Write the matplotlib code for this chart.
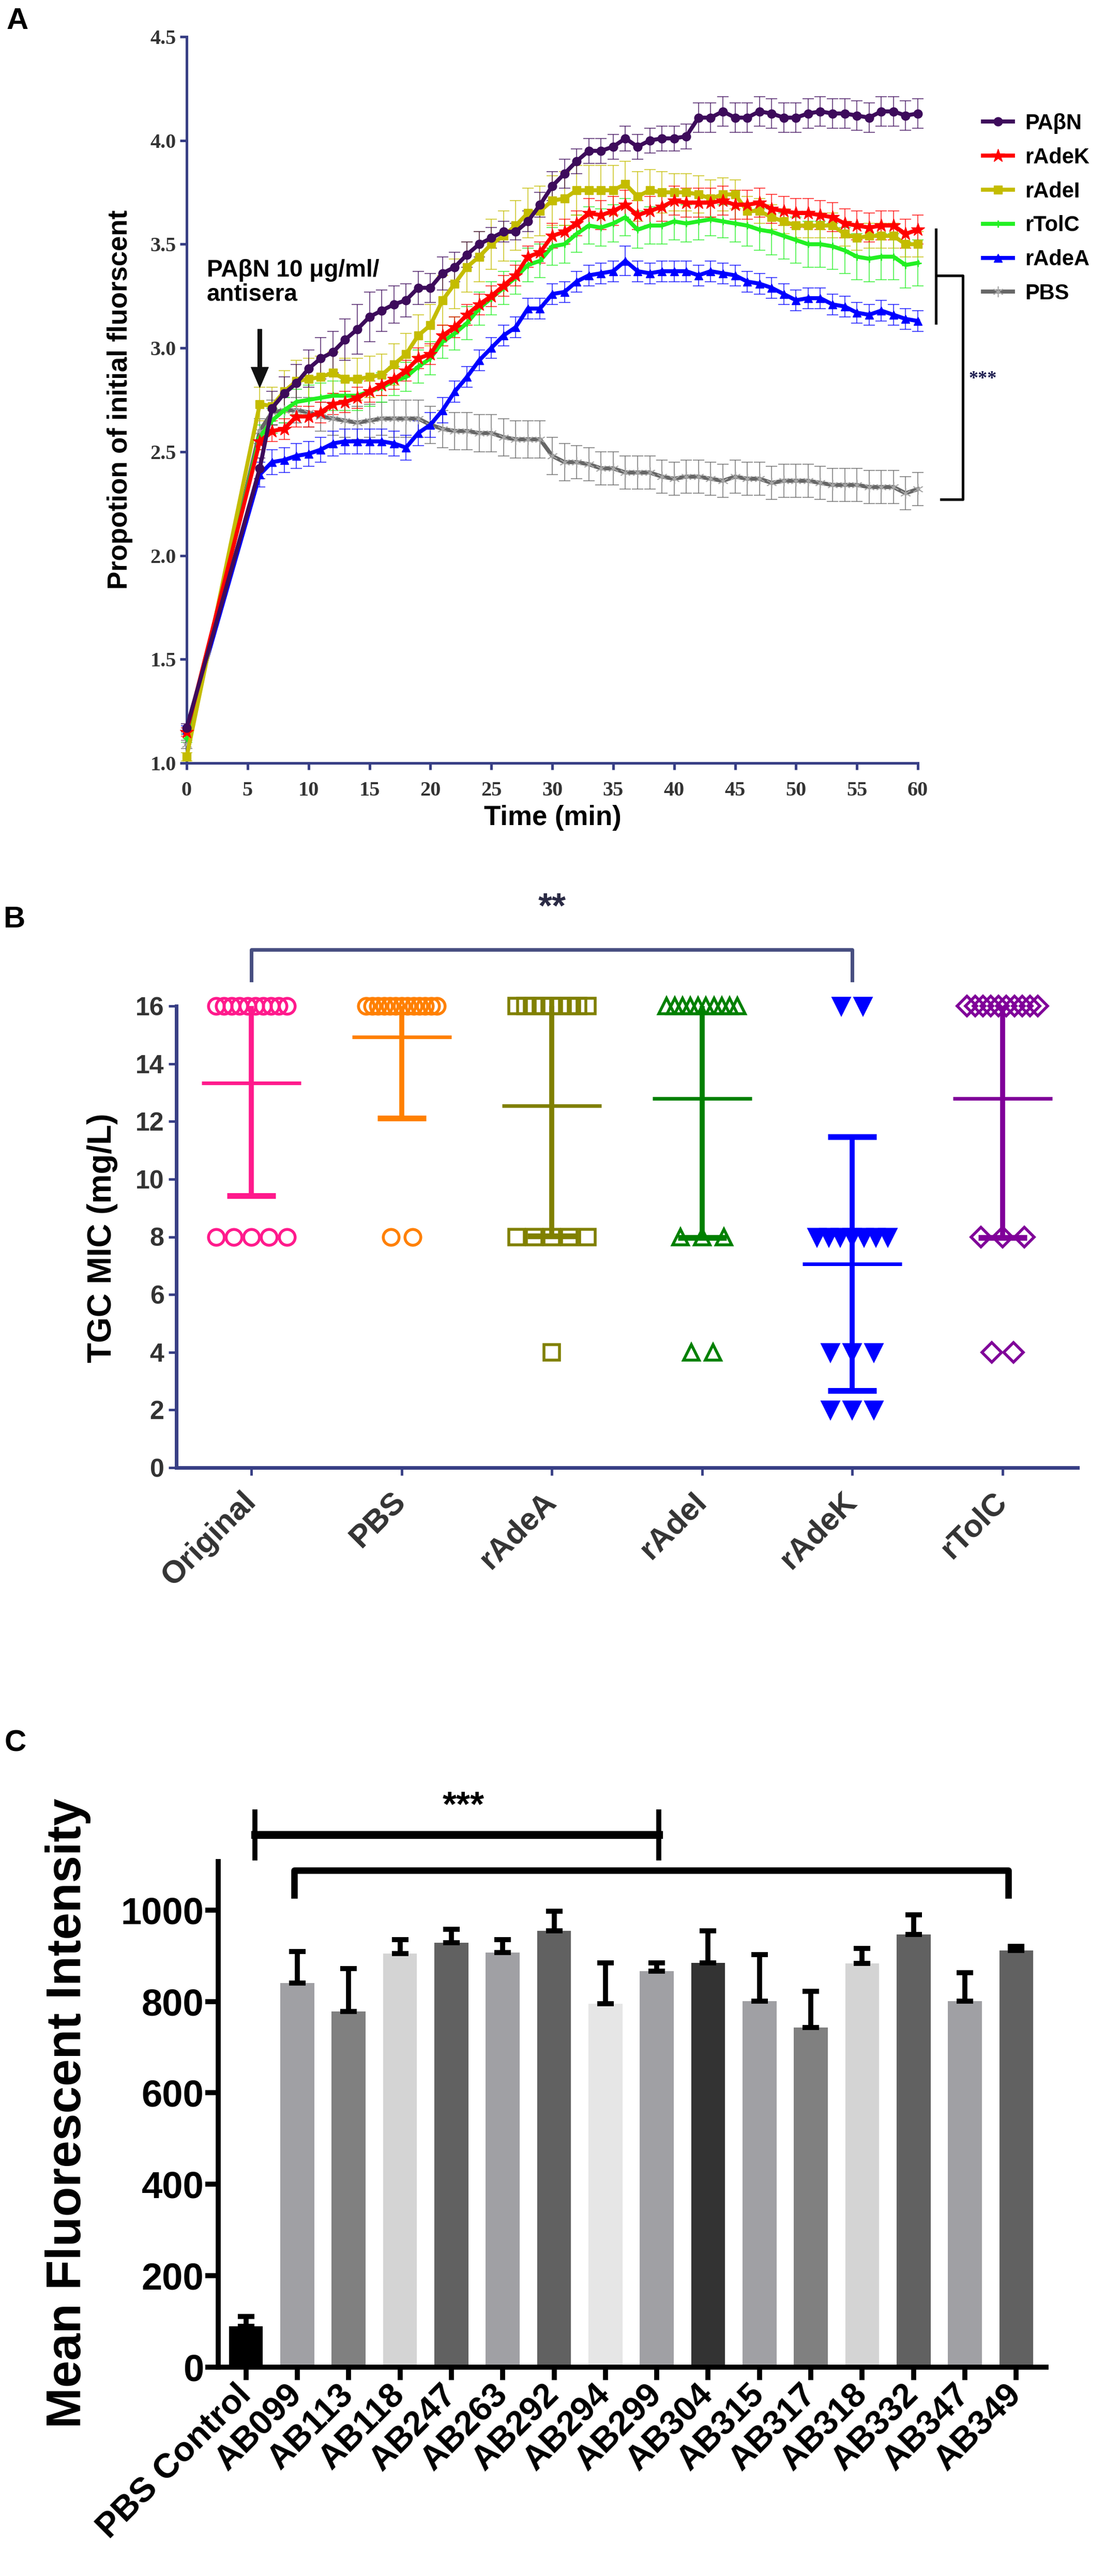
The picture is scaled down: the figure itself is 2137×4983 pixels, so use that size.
import numpy as np
import matplotlib.pyplot as plt

plt.rcParams['font.family'] = ['Liberation Sans', 'DejaVu Sans']
plt.rcParams['font.weight'] = 'bold'

# ---------------- Panel A: dye accumulation over time ----------------
# time points: 0 min, then every minute from 6 to 60
time_min = [0] + list(range(6, 61))

pabn = [1.17, 2.42, 2.71, 2.78, 2.83, 2.90, 2.95, 2.98, 3.04, 3.09,
        3.15, 3.18, 3.21, 3.23, 3.29, 3.29, 3.36, 3.39, 3.45, 3.50,
        3.53, 3.56, 3.56, 3.61, 3.69, 3.78, 3.84, 3.90, 3.95, 3.95,
        3.97, 4.01, 3.97, 4.00, 4.01, 4.01, 4.02, 4.11, 4.11, 4.14,
        4.11, 4.11, 4.14, 4.13, 4.11, 4.11, 4.13, 4.14, 4.13, 4.13,
        4.12, 4.11, 4.14, 4.14, 4.12, 4.13]
radek = [1.15, 2.55, 2.60, 2.61, 2.67, 2.67, 2.69, 2.73, 2.74, 2.76,
         2.79, 2.82, 2.85, 2.89, 2.95, 2.97, 3.06, 3.10, 3.16, 3.21,
         3.25, 3.30, 3.35, 3.44, 3.46, 3.54, 3.56, 3.60, 3.65, 3.64,
         3.66, 3.69, 3.64, 3.66, 3.68, 3.71, 3.70, 3.70, 3.70, 3.71,
         3.69, 3.69, 3.70, 3.67, 3.66, 3.65, 3.65, 3.64, 3.63, 3.60,
         3.59, 3.58, 3.59, 3.59, 3.55, 3.57]
radei = [1.03, 2.73, 2.72, 2.79, 2.84, 2.85, 2.86, 2.88, 2.85, 2.85,
         2.86, 2.87, 2.92, 2.97, 3.06, 3.11, 3.23, 3.31, 3.39, 3.44,
         3.50, 3.54, 3.59, 3.65, 3.66, 3.71, 3.72, 3.76, 3.76, 3.76,
         3.76, 3.79, 3.73, 3.76, 3.75, 3.75, 3.75, 3.74, 3.72, 3.74,
         3.74, 3.66, 3.66, 3.63, 3.61, 3.59, 3.59, 3.59, 3.59, 3.55,
         3.53, 3.54, 3.54, 3.54, 3.50, 3.50]
rtolc = [1.12, 2.57, 2.65, 2.70, 2.74, 2.75, 2.76, 2.77, 2.77, 2.77,
         2.79, 2.81, 2.84, 2.86, 2.91, 2.95, 3.03, 3.07, 3.12, 3.19,
         3.24, 3.29, 3.34, 3.40, 3.42, 3.49, 3.50, 3.55, 3.59, 3.58,
         3.60, 3.63, 3.57, 3.59, 3.59, 3.61, 3.60, 3.61, 3.62, 3.61,
         3.60, 3.59, 3.57, 3.56, 3.54, 3.52, 3.50, 3.50, 3.49, 3.47,
         3.44, 3.43, 3.44, 3.44, 3.40, 3.41]
radea = [1.16, 2.39, 2.45, 2.46, 2.48, 2.49, 2.51, 2.54, 2.55, 2.55,
         2.55, 2.55, 2.54, 2.52, 2.59, 2.63, 2.70, 2.79, 2.86, 2.94,
         3.00, 3.06, 3.10, 3.19, 3.19, 3.26, 3.27, 3.32, 3.35, 3.36,
         3.37, 3.42, 3.37, 3.36, 3.37, 3.37, 3.37, 3.35, 3.37, 3.36,
         3.35, 3.32, 3.31, 3.29, 3.26, 3.23, 3.24, 3.24, 3.21, 3.20,
         3.17, 3.16, 3.18, 3.16, 3.14, 3.13]
pbs = [1.09, 2.60, 2.69, 2.70, 2.70, 2.69, 2.67, 2.66, 2.65, 2.64,
       2.65, 2.66, 2.66, 2.66, 2.66, 2.63, 2.61, 2.60, 2.60, 2.59,
       2.59, 2.57, 2.56, 2.56, 2.56, 2.48, 2.45, 2.45, 2.44, 2.42,
       2.42, 2.40, 2.40, 2.40, 2.38, 2.37, 2.38, 2.38, 2.37, 2.36,
       2.38, 2.37, 2.37, 2.35, 2.36, 2.36, 2.36, 2.35, 2.34, 2.34,
       2.34, 2.33, 2.33, 2.33, 2.30, 2.32]

pabn_err = [0.02, 0.05, 0.08, 0.08, 0.09, 0.09, 0.10, 0.10, 0.10, 0.12,
            0.12, 0.10, 0.09, 0.08, 0.08, 0.07, 0.08, 0.07, 0.06, 0.06,
            0.05, 0.05, 0.04, 0.05, 0.06, 0.07, 0.07, 0.06, 0.06, 0.06,
            0.06, 0.06, 0.06, 0.06, 0.06, 0.06, 0.06, 0.07, 0.07, 0.07,
            0.07, 0.07, 0.07, 0.07, 0.07, 0.07, 0.07, 0.07, 0.07, 0.07,
            0.07, 0.07, 0.07, 0.07, 0.07, 0.07]
radek_err = [0.02, 0.04, 0.05, 0.05, 0.05, 0.05, 0.05, 0.05, 0.05, 0.05,
             0.05, 0.05, 0.05, 0.05, 0.05, 0.05, 0.05, 0.05, 0.05, 0.05,
             0.05, 0.05, 0.05, 0.05, 0.05, 0.06, 0.06, 0.06, 0.07, 0.07,
             0.07, 0.07, 0.07, 0.07, 0.07, 0.07, 0.07, 0.07, 0.07, 0.07,
             0.07, 0.07, 0.07, 0.07, 0.07, 0.07, 0.07, 0.07, 0.07, 0.07,
             0.07, 0.07, 0.07, 0.07, 0.07, 0.07]
radei_err = [0.02, 0.08, 0.09, 0.10, 0.10, 0.10, 0.10, 0.10, 0.10, 0.10,
             0.10, 0.10, 0.10, 0.10, 0.10, 0.10, 0.12, 0.12, 0.12, 0.12,
             0.12, 0.12, 0.12, 0.12, 0.12, 0.12, 0.13, 0.12, 0.12, 0.12,
             0.12, 0.11, 0.12, 0.10, 0.10, 0.09, 0.09, 0.09, 0.09, 0.08,
             0.07, 0.07, 0.06, 0.06, 0.06, 0.06, 0.06, 0.06, 0.06, 0.06,
             0.06, 0.06, 0.06, 0.06, 0.06, 0.06]
rtolc_err = [0.02, 0.06, 0.06, 0.06, 0.06, 0.07, 0.07, 0.07, 0.07, 0.07,
             0.07, 0.07, 0.07, 0.07, 0.08, 0.08, 0.08, 0.08, 0.08, 0.08,
             0.08, 0.08, 0.08, 0.08, 0.08, 0.09, 0.09, 0.09, 0.09, 0.09,
             0.09, 0.09, 0.09, 0.09, 0.09, 0.09, 0.09, 0.09, 0.08, 0.08,
             0.09, 0.10, 0.10, 0.11, 0.11, 0.11, 0.11, 0.11, 0.11, 0.11,
             0.11, 0.11, 0.11, 0.11, 0.11, 0.11]
radea_err = [0.02, 0.06, 0.06, 0.06, 0.06, 0.06, 0.06, 0.06, 0.06, 0.06,
             0.06, 0.06, 0.06, 0.06, 0.06, 0.06, 0.06, 0.05, 0.05, 0.05,
             0.05, 0.05, 0.05, 0.05, 0.05, 0.05, 0.05, 0.05, 0.05, 0.05,
             0.05, 0.07, 0.05, 0.05, 0.05, 0.05, 0.05, 0.05, 0.05, 0.05,
             0.05, 0.05, 0.05, 0.05, 0.05, 0.05, 0.05, 0.05, 0.05, 0.05,
             0.05, 0.05, 0.05, 0.05, 0.05, 0.05]
pbs_err = [0.02, 0.06, 0.06, 0.06, 0.06, 0.07, 0.07, 0.08, 0.08, 0.08,
           0.08, 0.08, 0.09, 0.09, 0.09, 0.09, 0.09, 0.09, 0.09, 0.09,
           0.09, 0.09, 0.09, 0.09, 0.09, 0.09, 0.09, 0.08, 0.08, 0.08,
           0.08, 0.08, 0.08, 0.08, 0.08, 0.08, 0.08, 0.08, 0.08, 0.08,
           0.08, 0.08, 0.08, 0.08, 0.08, 0.08, 0.08, 0.08, 0.08, 0.08,
           0.08, 0.08, 0.08, 0.08, 0.08, 0.08]

# ---------------- Panel B: TGC MIC per group ----------------
mic_groups = ['Original', 'PBS', 'rAdeA', 'rAdeI', 'rAdeK', 'rTolC']
mic_original = [16, 16, 16, 16, 16, 16, 16, 16, 16, 16, 8, 8, 8, 8, 8]
mic_pbs = [16, 16, 16, 16, 16, 16, 16, 16, 16, 16, 16, 16, 16, 8, 8]
mic_radea = [16, 16, 16, 16, 16, 16, 16, 16, 16, 8, 8, 8, 8, 8, 4]
mic_radei = [16, 16, 16, 16, 16, 16, 16, 16, 16, 16, 8, 8, 8, 4, 4]
mic_radek = [16, 16, 8, 8, 8, 8, 8, 8, 8, 4, 4, 4, 2, 2, 2]
mic_rtolc = [16, 16, 16, 16, 16, 16, 16, 16, 16, 16, 8, 8, 8, 4, 4]

# ---------------- Panel C: mean fluorescent intensity ----------------
mfi_labels = ['PBS Control', 'AB099', 'AB113', 'AB118', 'AB247', 'AB263',
              'AB292', 'AB294', 'AB299', 'AB304', 'AB315', 'AB317',
              'AB318', 'AB332', 'AB347', 'AB349']
mfi_mean = [89, 840, 778, 905, 928, 907, 954, 795, 866, 884, 801, 743,
            883, 947, 801, 911]
mfi_err = [22, 69, 94, 30, 30, 28, 43, 89, 18, 71, 101, 79, 33, 43, 62, 10]


W, H = 2137, 4983
fig = plt.figure(figsize=(W / 100, H / 100), dpi=100)


def fx(px):
    return px / W


def fy(py):
    return 1 - py / H


NAVY = '#383f85'

# ======================= Panel A =======================
axA = fig.add_axes([fx(361), fy(1476), (1775 - 361) / W, (1476 - 71) / H])

seriesA = [
    # label, values, errors, colour, marker, size, edge width, marker edge colour
    ('PBS', pbs, pbs_err, '#666666', (6, 2, 0), 15, 1.2, '#a8a8a8'),
    ('rAdeA', radea, radea_err, '#0000ff', '^', 12, 1, '#0000ff'),
    ('rTolC', rtolc, rtolc_err, '#22f022', '+', 10, 2, '#22f022'),
    ('rAdeI', radei, radei_err, '#c4bc00', 's', 11.5, 1, '#c4bc00'),
    ('rAdeK', radek, radek_err, '#ff0000', '*', 19, 1, '#ff0000'),
    ('PA\u03b2N', pabn, pabn_err, '#3d0b5b', 'o', 12, 1, '#3d0b5b'),
]

handles = {}
for label, vals, err, col, mk, ms, mew, mec in seriesA:
    axA.errorbar(time_min, vals, yerr=err, fmt='none', ecolor=col,
                 elinewidth=1.4, capsize=8, capthick=1.4, alpha=0.7,
                 clip_on=False, zorder=2)
    line, = axA.plot(time_min, vals, color=col, lw=5.6, marker=mk, ms=ms,
                     mfc=col, mec=mec, mew=mew, clip_on=False, zorder=3)
    handles[label] = line

axA.set_xlim(0, 60)
axA.set_ylim(1.0, 4.5)
axA.set_xticks(range(0, 61, 5))
yticksA = [1.0, 1.5, 2.0, 2.5, 3.0, 3.5, 4.0, 4.5]
axA.set_yticks(yticksA)
axA.set_yticklabels(['%.1f' % v for v in yticksA])
for s in ['top', 'right']:
    axA.spines[s].set_visible(False)
for s in ['left', 'bottom']:
    axA.spines[s].set_color(NAVY)
    axA.spines[s].set_linewidth(3.6)
axA.tick_params(direction='out', length=9.5, width=3.6, color=NAVY,
                labelsize=29, labelcolor='#333333')
axA.tick_params(axis='x', pad=16)
axA.tick_params(axis='y', pad=5)
for t in axA.get_xticklabels() + axA.get_yticklabels():
    t.set_fontfamily('Liberation Serif')
    t.set_fontweight('bold')

fig.text(fx(232), fy(773), 'Propotion of initial fluorscent', rotation=90,
         ha='center', va='center', fontsize=38, fontweight='bold')
fig.text(fx(1069), fy(1582), 'Time (min)', ha='center', va='center',
         fontsize=38, fontweight='bold')

axA.text(1.65, 3.43, 'PA\u03b2N 10 \u03bcg/ml/\nantisera', ha='left', va='top',
         fontsize=33, fontweight='bold', linespacing=1.1)
axA.annotate('', xy=(6, 2.81), xytext=(6, 3.09),
             arrowprops=dict(facecolor='#111111', edgecolor='#111111',
                             width=5.5, headwidth=24, headlength=28, shrink=0))

# significance bracket right of the curves
axA.plot([61.5, 61.5], [3.57, 3.12], color='black', lw=3.6, clip_on=False)
axA.plot([61.5, 63.7, 63.7, 61.9], [3.35, 3.35, 2.27, 2.27], color='black',
         lw=3.6, clip_on=False)
axA.text(64.2, 2.85, '***', ha='left', va='center', fontsize=26,
         color='#1c1c50', fontfamily='Liberation Serif')

legend_order = ['PA\u03b2N', 'rAdeK', 'rAdeI', 'rTolC', 'rAdeA', 'PBS']
fig.legend([handles[k] for k in legend_order], legend_order, loc='upper left',
           bbox_to_anchor=(fx(1880), fy(198)), frameon=False, borderpad=0,
           handlelength=1.4, handletextpad=0.55, labelspacing=0.62,
           numpoints=1, prop=dict(size=30, weight='bold'))

# ======================= Panel B =======================
axB = fig.add_axes([fx(341), fy(2839), (2084 - 341) / W, (2839 - 1946) / H])

groupsB = [
    (mic_original, '#ff1a8c', 'o', 'none'),
    (mic_pbs, '#ff8000', 'o', 'none'),
    (mic_radea, '#808000', 's', 'none'),
    (mic_radei, '#008000', '^', 'none'),
    (mic_radek, '#0000ff', 'v', '#0000ff'),
    (mic_rtolc, '#800099', 'D', 'none'),
]


def spread(vals, centre):
    vals = np.asarray(vals)
    xs = np.zeros(len(vals), dtype=float)
    for v in np.unique(vals):
        idx = np.where(vals == v)[0]
        k = len(idx)
        step = min(0.145, 0.47 / (k - 1)) if k > 1 else 0.0
        xs[idx] = centre + (np.arange(k) - (k - 1) / 2) * step
    return xs


for i, (vals, col, mk, face) in enumerate(groupsB):
    xs = spread(vals, i)
    ms = 19 if mk == 'D' else 22
    axB.plot(xs, vals, linestyle='none', marker=mk, ms=ms, mfc=face, mec=col,
             mew=4, clip_on=False, zorder=3)
    m = np.mean(vals)
    sd = np.std(vals, ddof=1)
    axB.errorbar(i, m, yerr=sd, fmt='none', ecolor=col, elinewidth=7,
                 capsize=34, capthick=8, zorder=4)
    axB.hlines(m, i - 0.33, i + 0.33, color=col, lw=5, zorder=4)

axB.set_xlim(-0.5, 5.5)
axB.set_ylim(0, 16)
axB.set_yticks(range(0, 17, 2))
axB.set_xticks(range(len(mic_groups)))
axB.set_xticklabels(mic_groups, rotation=45, ha='right', va='center',
                    rotation_mode='anchor')
for s in ['top', 'right']:
    axB.spines[s].set_visible(False)
for s in ['left', 'bottom']:
    axB.spines[s].set_color(NAVY)
    axB.spines[s].set_linewidth(5)
axB.tick_params(direction='out', length=11, width=3.5, color=NAVY,
                labelcolor='#333333')
axB.tick_params(axis='y', labelsize=36, pad=6)
axB.tick_params(axis='x', labelsize=44, pad=30)

axB.plot([0, 0, 4, 4], [16.9, 17.96, 17.96, 16.9], color='#474e80', lw=5,
         clip_on=False)
axB.text(2, 19.4, '**', ha='center', va='center', fontsize=50,
         color='#2b2b45')
fig.text(fx(198), fy(2395), 'TGC MIC (mg/L)', rotation=90, ha='center',
         va='center', fontsize=46, fontweight='bold')

# ======================= Panel C =======================
axC = fig.add_axes([fx(422), fy(4579), (2023 - 422) / W, (4579 - 3601) / H])

bar_colors = ['#000000', '#a0a0a4', '#808080', '#d4d4d4', '#616161',
              '#a0a0a4', '#616161', '#e6e6e6', '#a0a0a4', '#333333',
              '#a0a0a4', '#808080', '#d4d4d4', '#616161', '#a0a0a4',
              '#616161']
xC = np.arange(len(mfi_labels))
axC.bar(xC, mfi_mean, width=0.66, color=bar_colors,
        yerr=[np.zeros(len(mfi_err)), mfi_err],
        error_kw=dict(ecolor='black', elinewidth=7, capsize=11.5, capthick=7),
        zorder=2)
axC.set_xlim(-0.54, 15.58)
axC.set_ylim(0, 1106)
axC.set_yticks(range(0, 1001, 200))
axC.set_xticks(xC)
axC.set_xticklabels(mfi_labels, rotation=45, ha='right', va='center',
                    rotation_mode='anchor')
for s in ['top', 'right']:
    axC.spines[s].set_visible(False)
for s in ['left', 'bottom']:
    axC.spines[s].set_linewidth(7)
axC.tick_params(direction='out', length=18, width=7)
axC.tick_params(axis='y', labelsize=52, pad=2)
axC.tick_params(axis='x', labelsize=48, pad=14)

axC.plot([0.17, 0.17], [1114, 1214], color='black', lw=7, clip_on=False)
axC.plot([8.04, 8.04], [1114, 1214], color='black', lw=7, clip_on=False)
axC.plot([0.17, 8.04], [1165, 1165], color='black', lw=11, clip_on=False)
axC.plot([0.94, 0.94, 14.85, 14.85], [1032, 1087, 1087, 1032], color='black',
         lw=9, clip_on=False)
axC.text(4.23, 1226, '***', ha='center', va='center', fontsize=50)
fig.text(fx(132), fy(4088), 'Mean Fluorescent Intensity', rotation=90,
         ha='center', va='center', fontsize=68, fontweight='bold')

# panel letters
fig.text(fx(34), fy(41), 'A', ha='center', va='center', fontsize=42,
         fontweight='bold')
fig.text(fx(27), fy(1779), 'B', ha='center', va='center', fontsize=42,
         fontweight='bold')
fig.text(fx(30), fy(3373), 'C', ha='center', va='center', fontsize=42,
         fontweight='bold')

fig.savefig('out.png', dpi=100)
